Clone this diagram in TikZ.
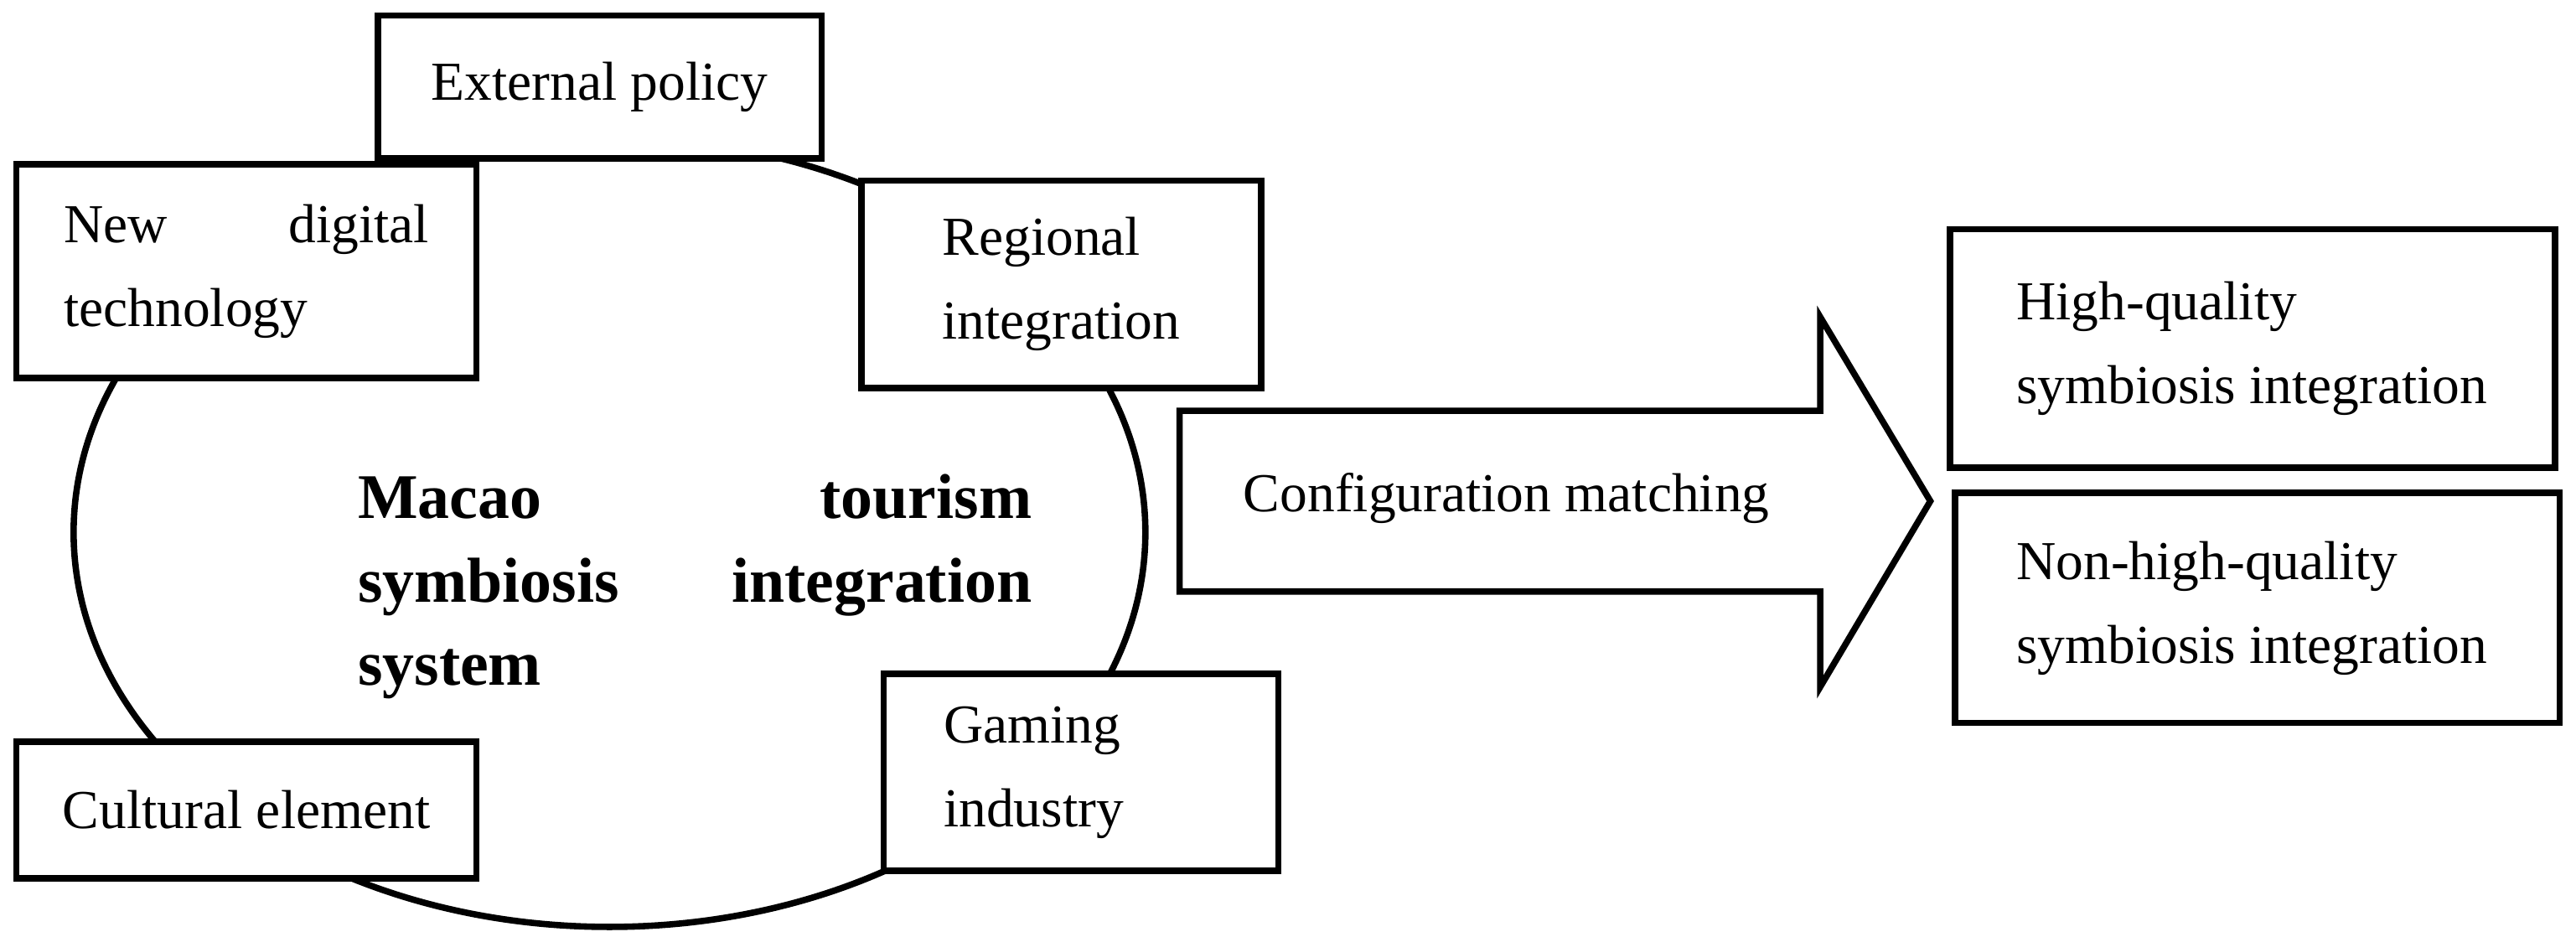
\documentclass[tikz,border=0pt]{standalone}
\usepackage{fontspec}
\setmainfont{Liberation Serif}
\begin{document}
\begin{tikzpicture}[x=0.01cm,y=-0.01cm,
  box/.style={draw,line width=1.1pt,fill=white,inner sep=0pt,font=\fontsize{9.5}{14.5}\selectfont},
  lbl/.style={align=left,font=\fontsize{9.5}{14.5}\selectfont}]
\useasboundingbox (0,0) rectangle (1568,570);
\draw[line width=1.1pt] (371,324) ellipse [x radius=3.26cm, y radius=2.40cm];
\node[box,minimum width=2.7cm,minimum height=0.87cm] (ext) at (365,53) {External policy};
\node[box,minimum width=2.8cm,minimum height=1.3cm] (dig) at (150,165) {};
\node[lbl,text width=2.22cm] at (dig) {New\hfill digital\\technology};
\node[box,minimum width=2.43cm,minimum height=1.26cm] (reg) at (646,173) {};
\node[lbl] at (reg) {Regional\\integration};
\node[box,minimum width=2.4cm,minimum height=1.2cm] (gam) at (658,470) {};
\node[lbl,anchor=west] at ([xshift=0.26cm]gam.west) {Gaming\\industry};
\node[box,minimum width=2.8cm,minimum height=0.83cm] (cul) at (150,493) {Cultural element};
\node[align=left,text width=4.1cm,font=\fontsize{11}{14.5}\selectfont\bfseries] (sys) at (423,357)
  {Macao\hfill tourism\\symbiosis\hfill integration\\system};
\draw[line width=1.1pt,fill=white] (718,250) -- (1108,250) -- (1108,193) -- (1175,305) -- (1108,418) -- (1108,360) -- (718,360) -- cycle;
\node[lbl] (cfg) at (917,303) {Configuration matching};
\node[box,minimum width=3.68cm,minimum height=1.45cm] (hq) at (1371,212) {};
\node[lbl,anchor=west] at ([xshift=0.3cm]hq.west) {High-quality\\symbiosis integration};
\node[box,minimum width=3.68cm,minimum height=1.4cm] (nhq) at (1374,370) {};
\node[lbl,anchor=west] at ([xshift=0.27cm]nhq.west) {Non-high-quality\\symbiosis integration};
\end{tikzpicture}
\end{document}
